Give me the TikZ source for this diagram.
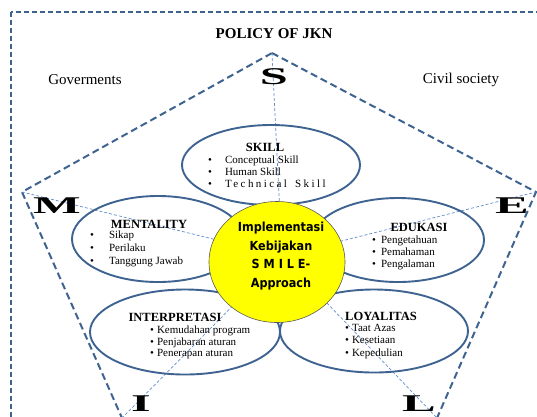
\documentclass[tikz,border=0pt]{standalone}
\usepackage{fontspec}
\setmainfont{Liberation Serif}
\newfontfamily\corefont{DejaVu Sans Condensed}
\usetikzlibrary{shapes.geometric,positioning}
\definecolor{lineblue}{RGB}{63,99,145}
\definecolor{spokeblue}{RGB}{98,141,204}
\definecolor{coreyellow}{RGB}{255,255,0}
\newcommand{\wideletter}[1]{\scalebox{2.1}[1]{#1}}
\newcommand{\itemrow}[2]{\textbullet\hspace{#1}#2}

\begin{document}
\begin{tikzpicture}[x=1pt,y=-1pt,
    petal/.style={draw=lineblue, line width=1.9pt, ellipse, inner sep=0pt},
    heading/.style={font=\fontsize{12.5}{14}\selectfont\bfseries, anchor=base, inner sep=0pt},
    itemlist/.style={font=\fontsize{11}{12}\selectfont, anchor=base west, inner sep=0pt},
    bigletter/.style={font=\fontsize{24}{24}\selectfont\bfseries, anchor=north, inner sep=0pt},
    sidelabel/.style={font=\fontsize{15}{17}\selectfont, anchor=base, inner sep=0pt},
    pentagon/.style={draw=lineblue, line width=2pt, dash pattern=on 7pt off 4pt},
    spoke/.style={draw=spokeblue, line width=0.7pt, dash pattern=on 3pt off 2pt}
    ]
    \useasboundingbox (0,0) rectangle (537,416);
    \clip (0,0) rectangle (537,416);

    % outer frame
    \draw[lineblue, line width=1.3pt, dash pattern=on 5pt off 3pt] (11,12) rectangle (570,450);

    % labels
    \node[sidelabel, font=\fontsize{15}{17}\selectfont\bfseries] (policy) at (274,38) {POLICY OF JKN};
    \node[sidelabel] (gov) at (85,84) {Goverments};
    \node[sidelabel] (civil) at (461,83) {Civil society};

    % pentagon and spokes
    \coordinate (vs) at (272,53);
    \coordinate (ve) at (536,192);
    \coordinate (vl) at (437,418);
    \coordinate (vi) at (122,418);
    \coordinate (vm) at (22,192);
    \coordinate (hub) at (282,256);
    \draw[pentagon] (vs) -- (ve) -- (vl) -- (vi) -- (vm) -- cycle;
    \foreach \v in {vs,ve,vl,vi,vm}
        \draw[spoke] (hub) -- (\v);

    % letters
    \node[bigletter] (S) at (274,68) {\wideletter{S}};
    \node[bigletter] (M) at (57,198) {\wideletter{M}};
    \node[bigletter] (E) at (512,198) {\wideletter{E}};
    \node[bigletter] (I) at (141,396) {\wideletter{I}};
    \node[bigletter] (L) at (419,396) {\wideletter{L}};

    % petals
    \node[petal, minimum width=178pt, minimum height=80pt] (skill) at (271,165) {};
    \node[petal, minimum width=172pt, minimum height=86pt] (mentality) at (158,239) {};
    \node[petal, minimum width=172pt, minimum height=84pt] (edukasi) at (398,240) {};
    \node[petal, minimum width=190pt, minimum height=85pt] (interpretasi) at (185,332) {};
    \node[petal, minimum width=188pt, minimum height=83pt] (loyalitas) at (374,331) {};

    \node[heading] (skillhead) at (265,151.5) {SKILL};
    \node[itemlist] (skilllist) at (208,163.5) {\begin{tabular}[t]{@{}l@{}}
        \itemrow{13pt}{Conceptual Skill}\\
        \itemrow{13pt}{Human Skill}\\
        \itemrow{13pt}{\addfontfeature{LetterSpace=22}Technical\hspace{3pt} Skill}
        \end{tabular}};

    \node[heading] (mentalhead) at (149,228) {MENTALITY};
    \node[itemlist] (mentallist) at (90,238.5) {\renewcommand{\arraystretch}{1.08}\begin{tabular}[t]{@{}l@{}}
        \itemrow{15pt}{Sikap}\\
        \itemrow{15pt}{Perilaku}\\
        \itemrow{15pt}{Tanggung Jawab}
        \end{tabular}};

    \node[heading] (eduhead) at (419,231) {EDUKASI};
    \node[itemlist] (edulist) at (372,243.5) {\begin{tabular}[t]{@{}l@{}}
        \itemrow{5pt}{Pengetahuan}\\
        \itemrow{5pt}{Pemahaman}\\
        \itemrow{5pt}{Pengalaman}
        \end{tabular}};

    \node[heading] (interhead) at (175,321) {INTERPRETASI};
    \node[itemlist] (interlist) at (150,333.5) {\renewcommand{\arraystretch}{0.96}\begin{tabular}[t]{@{}l@{}}
        \itemrow{3pt}{Kemudahan program}\\
        \itemrow{3pt}{Penjabaran aturan}\\
        \itemrow{3pt}{Penerapan aturan}
        \end{tabular}};

    \node[heading] (loyalhead) at (381,320) {LOYALITAS};
    \node[itemlist] (loyallist) at (345,331.5) {\renewcommand{\arraystretch}{1.04}\begin{tabular}[t]{@{}l@{}}
        \itemrow{3pt}{Taat Azas}\\
        \itemrow{3pt}{Kesetiaan}\\
        \itemrow{3pt}{Kepedulian}
        \end{tabular}};

    % core
    \node[ellipse, draw=black!65, line width=0.6pt, fill=coreyellow,
          minimum width=136pt, minimum height=121pt] (core) at (277,262) {};
    \node[font=\corefont\fontsize{12.5}{18.4}\selectfont\bfseries, align=center,
          inner sep=0pt] (coretext) at (281,256) {Implementasi\\Kebijakan\\S M I L E-\\Approach};
\end{tikzpicture}
\end{document}
